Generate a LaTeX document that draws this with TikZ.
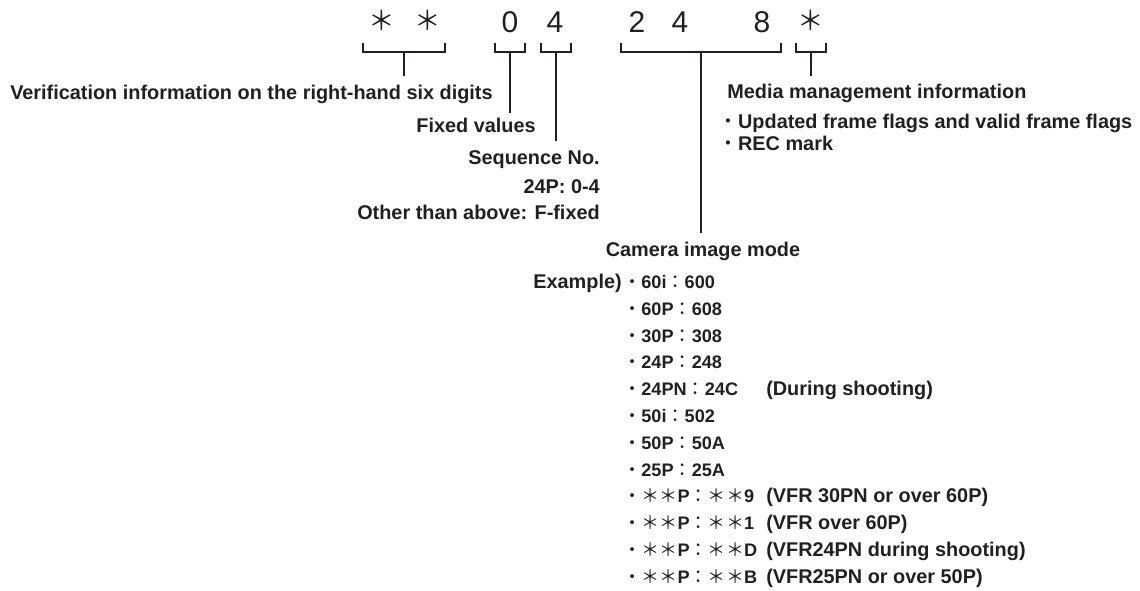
\documentclass[tikz,border=0pt]{standalone}
\usepackage{fontspec}
\setmainfont{Liberation Sans}
\newfontfamily\cjk{Noto Sans CJK JP}[BoldFont={Noto Sans CJK JP}]
\usepackage{xcolor}
\usepackage{tikz}
\usetikzlibrary{positioning}
\definecolor{tcInk}{HTML}{231F20}
\tikzset{
  tc diagram/.style={x=0.75pt, y=-0.75pt, text=tcInk},
  tc digit/.style={font=\fontsize{22.5}{22.5}\selectfont, inner sep=0pt, anchor=base},
  tc star/.style={font=\cjk\fontsize{20}{20}\selectfont, inner sep=0pt, anchor=base},
  tc bracket/.style={draw=tcInk, line width=1.4pt},
  tc label/.style={font=\bfseries\fontsize{14.9}{17}\selectfont, inner sep=0pt},
  tc item/.style={font=\bfseries\fontsize{13.6}{16}\selectfont, inner sep=0pt, anchor=base west}
}
\begin{document}
\begin{tikzpicture}[tc diagram]
\useasboundingbox (0,0) rectangle (1140,591);
\foreach \x/\d/\name in {510/0/d1,555/4/d2,637/2/d3,680/4/d4,762/8/d5}
  \node[tc digit] (\name) at (\x,33) {\d};
\foreach \x/\name in {382/s1,428/s2,811/s3}
  \node[tc star] (\name) at (\x,31) {＊};
\foreach \l/\r/\m/\e/\name in {363/445/404/76/verif,495/525/510/113/fixed,541/571/556/141/seq,621/781/701/233/mode,796/826/811/76/media}{
  \coordinate (\name top) at (\m,52);
  \coordinate (\name end) at (\m,\e);
  \draw[tc bracket] (\l,43) -- (\l,52) -- (\r,52) -- (\r,43);
  \draw[tc bracket] (\name top) -- (\name end);
}
\node[tc label, anchor=base west] (verif) at (10,100) {Verification information on the right-hand six digits};
\node[tc label, anchor=base east] (fixed) at (536,133) {Fixed values};
\node[tc label, anchor=base east] (seq) at (600,165) {Sequence No.};
\node[tc label, anchor=base east] (seq24) at (600,194) {24P: 0-4};
\node[tc label, anchor=base east] (seqother) at (600,220) {Other than above: F-fixed};
\node[tc label, anchor=base west] (media) at (727,99) {Media management information};
\foreach \y/\text/\name in {129/{Updated frame flags and valid frame flags}/flags,151/{REC mark}/rec}
  \node[tc label, anchor=base west] (\name) at (718,\y) {{\cjk ・}\text};
\node[tc label, anchor=base] (mode) at (703,257) {Camera image mode};
\node[tc label, anchor=base east] (example) at (622,289) {Example)};
\foreach \i/\text in {0/{60i{\cjk ：}600},1/{60P{\cjk ：}608},2/{30P{\cjk ：}308},3/{24P{\cjk ：}248},4/{24PN{\cjk ：}24C},5/{50i{\cjk ：}502},6/{50P{\cjk ：}50A},7/{25P{\cjk ：}25A},8/{{\cjk ＊＊}P{\cjk ：＊＊}9},9/{{\cjk ＊＊}P{\cjk ：＊＊}1},10/{{\cjk ＊＊}P{\cjk ：＊＊}D},11/{{\cjk ＊＊}P{\cjk ：＊＊}B}}
  \node[tc item] (item\i) at (623,{288.5+26.8*\i}) {{\cjk ・}\text};
\foreach \i/\note in {4/{(During shooting)},8/{(VFR 30PN or over 60P)},9/{(VFR over 60P)},10/{(VFR24PN during shooting)},11/{(VFR25PN or over 50P)}}
  \node[tc label, anchor=base west] (note\i) at (766,{288.5+26.8*\i}) {\note};
\end{tikzpicture}
\end{document}
